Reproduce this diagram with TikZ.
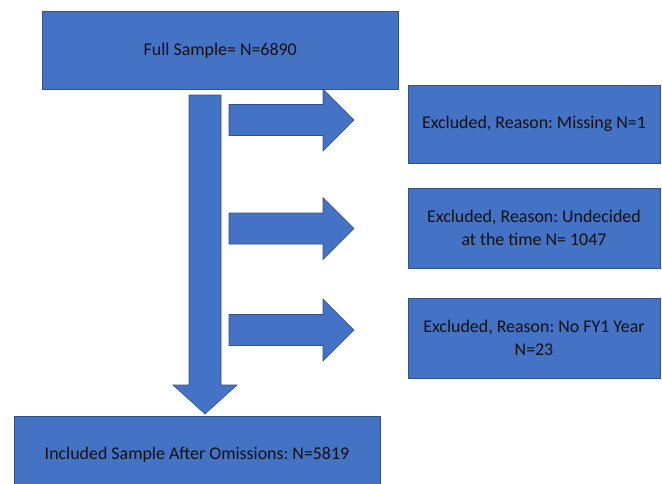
\documentclass[tikz,border=0pt]{standalone}
\usepackage{fontspec}
\setmainfont{Carlito}
\frenchspacing
\definecolor{boxblue}{HTML}{4472C4}
\definecolor{boxedge}{HTML}{2F528F}
\definecolor{txt}{HTML}{111111}
\begin{document}
\begin{tikzpicture}[x=1pt,y=-1pt,
  blk/.style={fill=boxblue,draw=boxedge,line width=0.6pt},
  box/.style={blk,rectangle,inner sep=0pt,align=center,text=txt,
    font=\fontsize{17.9}{23.5}\selectfont},
]
\useasboundingbox (0,0) rectangle (662,483);
\begin{scope}
\clip (0,0) rectangle (662,483);
\node[box,minimum width=355.5pt,minimum height=78.5pt] (full) at (220.25,50.25) {Full Sample= N=6890};
\node[box,minimum width=252pt,minimum height=78pt] (ex1) at (534,124) {Excluded, Reason: Missing N=1};
\node[box,minimum width=252pt,minimum height=80pt] (ex2) at (534,228) {Excluded, Reason: Undecided\\at the time N= 1047};
\node[box,minimum width=252pt,minimum height=80pt] (ex3) at (534,338) {Excluded, Reason: No FY1 Year\\N=23};
\node[box,minimum width=366pt,minimum height=78pt] (incl) at (197,455) {Included Sample After Omissions: N=5819};
% vertical block arrow
\coordinate (vtip) at (205,414);
\draw[blk] (189,95) -- (221,95) -- (221,385) -- (237,385) -- (vtip) -- (173,385) -- (189,385) -- cycle;
% side block arrows
\foreach \yc/\nm in {120/a1,228.5/a2,330/a3}{
  \coordinate (\nm) at (354,\yc);
  \draw[blk] (229,\yc-15.5) -- (323,\yc-15.5) -- (323,\yc-31) -- (\nm) -- (323,\yc+31) -- (323,\yc+15.5) -- (229,\yc+15.5) -- cycle;
}
\end{scope}
\end{tikzpicture}
\end{document}
